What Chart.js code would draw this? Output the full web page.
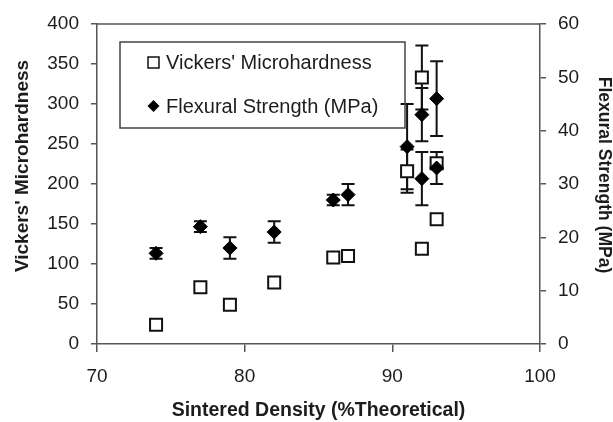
<!DOCTYPE html>
<html><head><meta charset="utf-8">
<script src="https://cdn.jsdelivr.net/npm/chart.js@4"></script>
<style>html,body{margin:0;padding:0;background:#fff}#wrap{width:613px;height:422px}</style>
</head><body><div id="wrap"><canvas id="c" width="613" height="422"></canvas></div>
<script>
const densityVH = [74, 77, 79, 82, 86, 87, 91, 92, 92, 93, 93];
const hardness = [24, 71, 49, 77, 108, 110, 216, 333, 119, 226, 156];
const hardnessErr = [0, 0, 0, 0, 0, 0, 27, 40, 0, 0, 0];
const densityFS = [74, 77, 79, 82, 86, 87, 91, 92, 92, 93, 93];
const strength = [17, 22, 18, 21, 27, 28, 37, 43, 31, 46, 33];
const strengthErr = [1, 1, 2, 2, 1, 2, 8, 5, 5, 7, 3];
const xTicks = [70, 80, 90, 100];
const yTicks = [0, 50, 100, 150, 200, 250, 300, 350, 400];
const y2Ticks = [0, 10, 20, 30, 40, 50, 60];
const seriesNames = ["Vickers' Microhardness", "Flexural Strength (MPa)"];
const xTitle = "Sintered Density (%Theoretical)";
const yTitle = "Vickers' Microhardness";
const y2Title = "Flexural Strength (MPa)";

const FONT = "'Liberation Sans', Arial, Helvetica, sans-serif";
const AX = '#555';
const TXT = '#1c1c1c';

const errorBars = {
  id: 'errorBars',
  beforeDatasetsDraw(chart) {
    const ctx = chart.ctx;
    const xs = chart.scales.x;
    const sets = [[densityVH, hardness, hardnessErr, chart.scales.y], [densityFS, strength, strengthErr, chart.scales.y2]];
    ctx.save();
    ctx.strokeStyle = '#111';
    ctx.lineWidth = 2;
    sets.forEach(([xv, yv, ev, sc]) => {
      xv.forEach((x, i) => {
        if (!ev[i]) return;
        const px = xs.getPixelForValue(x);
        const t = sc.getPixelForValue(yv[i] + ev[i]);
        const b = sc.getPixelForValue(yv[i] - ev[i]);
        ctx.beginPath();
        ctx.moveTo(px, t); ctx.lineTo(px, b);
        ctx.moveTo(px - 6.5, t); ctx.lineTo(px + 6.5, t);
        ctx.moveTo(px - 6.5, b); ctx.lineTo(px + 6.5, b);
        ctx.stroke();
      });
    });
    ctx.restore();
  }
};

const decor = {
  id: 'decor',
  afterDraw(chart) {
    const ctx = chart.ctx;
    const a = chart.chartArea;
    ctx.save();
    ctx.strokeStyle = AX; ctx.lineWidth = 1.5;
    ctx.beginPath(); ctx.moveTo(a.left, a.top); ctx.lineTo(a.right, a.top); ctx.stroke();
    ctx.fillStyle = TXT;
    ctx.textAlign = 'center'; ctx.textBaseline = 'middle';
    ctx.font = "bold 19.5px " + FONT;
    ctx.fillText(xTitle, (a.left + a.right) / 2, 411);
    ctx.font = "bold 19px " + FONT;
    ctx.save(); ctx.translate(23, 166); ctx.rotate(-Math.PI / 2); ctx.fillText(yTitle, 0, 0); ctx.restore();
    ctx.font = "bold 17.5px " + FONT;
    ctx.save(); ctx.translate(604, 175); ctx.rotate(Math.PI / 2); ctx.fillText(y2Title, 0, 0); ctx.restore();
    ctx.strokeStyle = '#444'; ctx.lineWidth = 1.5;
    ctx.strokeRect(120, 42, 285, 86);
    ctx.strokeStyle = '#111'; ctx.fillStyle = '#fff';
    ctx.fillRect(148, 57, 11, 11); ctx.strokeRect(148, 57, 11, 11);
    ctx.fillStyle = '#000';
    ctx.beginPath(); ctx.moveTo(153.5, 100); ctx.lineTo(159.5, 106); ctx.lineTo(153.5, 112); ctx.lineTo(147.5, 106); ctx.closePath(); ctx.fill();
    ctx.fillStyle = TXT;
    ctx.font = "20px " + FONT;
    ctx.textAlign = 'left'; ctx.textBaseline = 'alphabetic';
    ctx.fillText(seriesNames[0], 166, 69);
    ctx.fillText(seriesNames[1], 166, 113);
    ctx.restore();
  }
};

function tickOpts() {
  return { font: { size: 19, family: FONT }, color: TXT };
}

new Chart(document.getElementById('c'), {
  type: 'scatter',
  data: {
    datasets: [
      {
        label: seriesNames[0],
        data: densityVH.map((x, i) => ({ x, y: hardness[i] })),
        yAxisID: 'y', pointStyle: 'rect', pointRadius: 8.5, pointHoverRadius: 8.5,
        pointBackgroundColor: '#fff', pointBorderColor: '#111', pointBorderWidth: 2,
        showLine: false, order: 2, clip: false
      },
      {
        label: seriesNames[1],
        data: densityFS.map((x, i) => ({ x, y: strength[i] })),
        yAxisID: 'y2', pointStyle: 'rectRot', pointRadius: 7, pointHoverRadius: 7,
        pointBackgroundColor: '#000', pointBorderColor: '#000', pointBorderWidth: 1,
        showLine: false, order: 1, clip: false
      }
    ]
  },
  options: {
    responsive: false, animation: false, devicePixelRatio: 1,
    layout: { padding: { top: 24, left: 0, right: 0, bottom: 0 } },
    plugins: { legend: { display: false }, tooltip: { enabled: false } },
    scales: {
      x: {
        type: 'linear', min: xTicks[0], max: xTicks[xTicks.length - 1],
        afterBuildTicks: s => { s.ticks = xTicks.map(v => ({ value: v })); },
        ticks: { ...tickOpts(), padding: 13 },
        grid: { drawOnChartArea: false, tickLength: 8, color: AX, lineWidth: 1.5 },
        border: { color: AX, width: 1.5 },
        afterFit: s => { s.height = 78; }
      },
      y: {
        type: 'linear', position: 'left', min: yTicks[0], max: yTicks[yTicks.length - 1],
        afterBuildTicks: s => { s.ticks = yTicks.map(v => ({ value: v })); },
        ticks: { ...tickOpts(), padding: 12 },
        grid: { drawOnChartArea: false, tickLength: 6, color: AX, lineWidth: 1.5 },
        border: { color: AX, width: 1.5 },
        afterFit: s => { s.width = 97; }
      },
      y2: {
        type: 'linear', position: 'right', min: y2Ticks[0], max: y2Ticks[y2Ticks.length - 1],
        afterBuildTicks: s => { s.ticks = y2Ticks.map(v => ({ value: v })); },
        ticks: { ...tickOpts(), padding: 12 },
        grid: { drawOnChartArea: false, tickLength: 6, color: AX, lineWidth: 1.5 },
        border: { color: AX, width: 1.5 },
        afterFit: s => { s.width = 73; }
      }
    }
  },
  plugins: [errorBars, decor]
});
</script></body></html>
